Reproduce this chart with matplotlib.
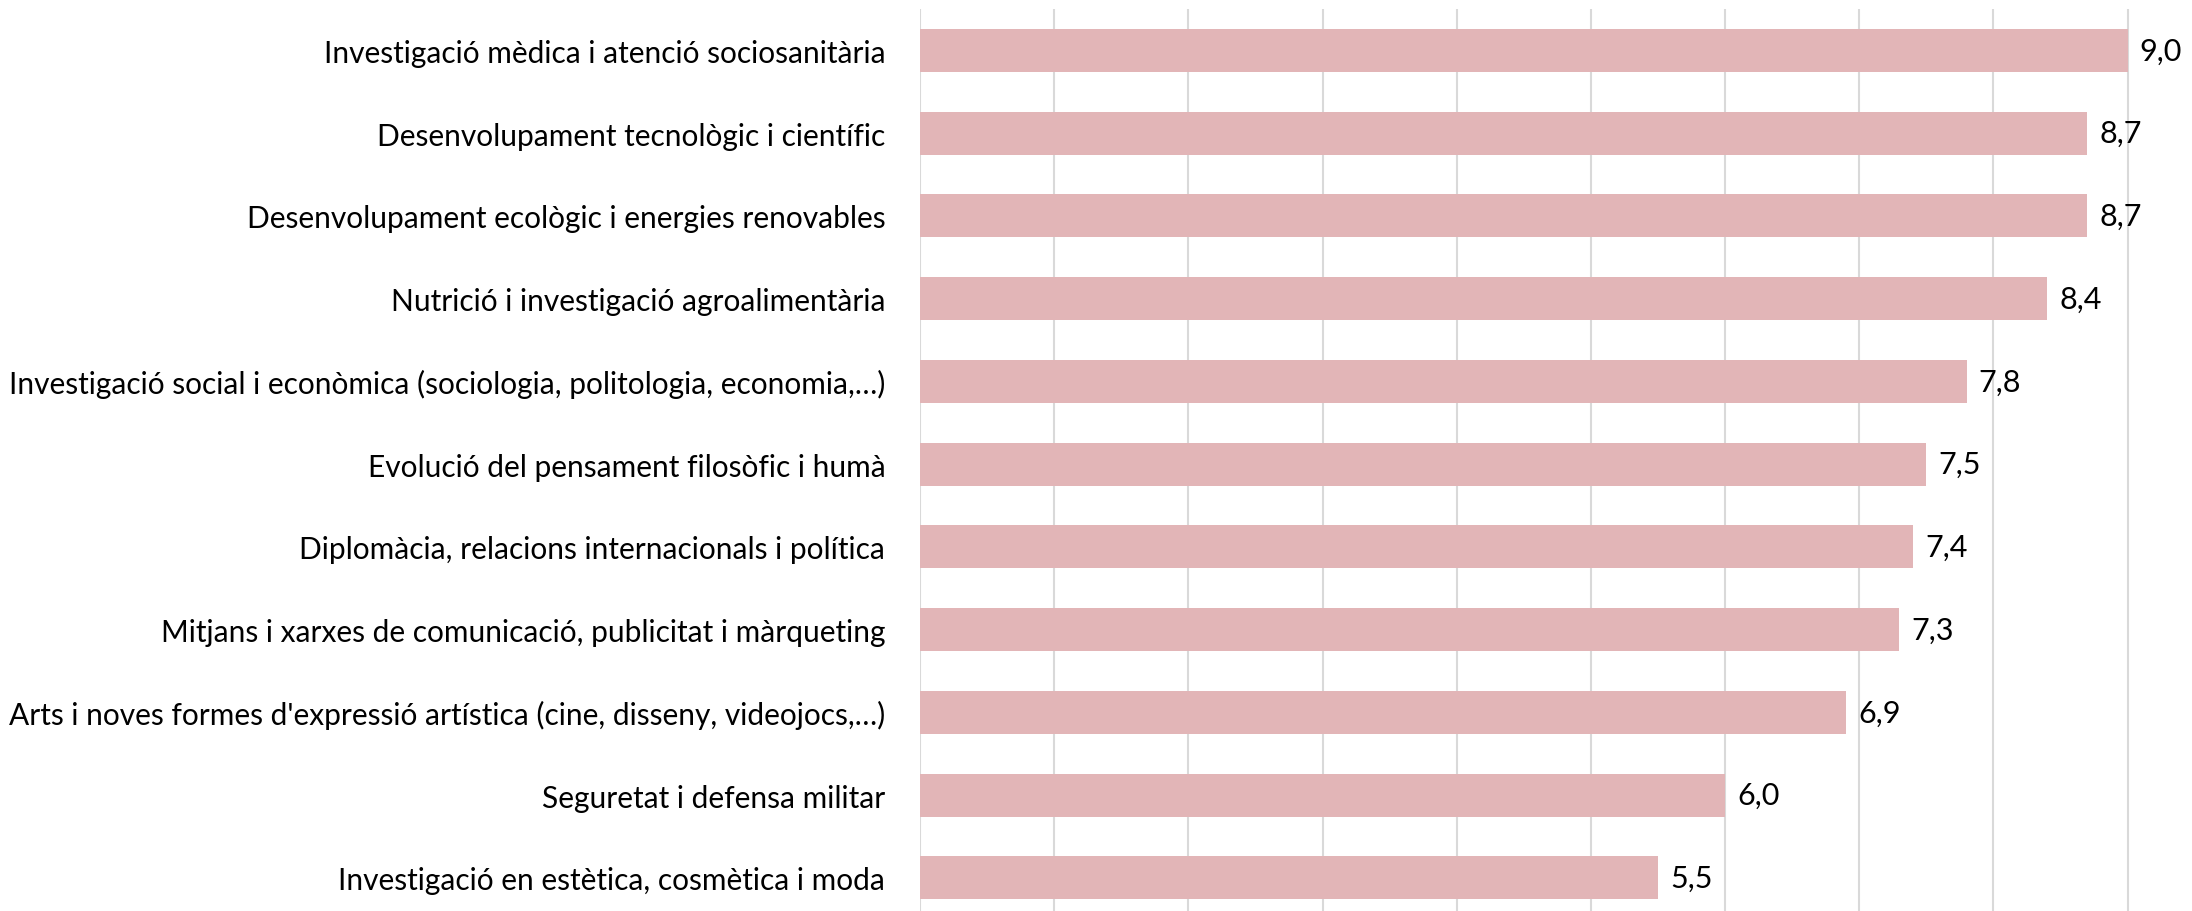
import matplotlib.pyplot as plt
import numpy as np

plt.rcParams['font.family'] = ['Lato', 'DejaVu Sans']

categories = [
    "Investigació mèdica i atenció sociosanitària",
    "Desenvolupament tecnològic i científic",
    "Desenvolupament ecològic i energies renovables",
    "Nutrició i investigació agroalimentària",
    "Investigació social i econòmica (sociologia, politologia, economia,…)",
    "Evolució del pensament filosòfic i humà",
    "Diplomàcia, relacions internacionals i política",
    "Mitjans i xarxes de comunicació, publicitat i màrqueting",
    "Arts i noves formes d'expressió artística (cine, disseny, videojocs,…)",
    "Seguretat i defensa militar",
    "Investigació en estètica, cosmètica i moda",
]
values = [9.0, 8.7, 8.7, 8.4, 7.8, 7.5, 7.4, 7.3, 6.9, 6.0, 5.5]

fig = plt.figure(figsize=(21.92, 9.12), dpi=100)
ax = fig.add_axes([920 / 2192, 0, 1 - 920 / 2192, 1 - 10 / 912])

y = np.arange(len(categories))
ax.barh(y, values, height=0.52, color="#e2b5b7", zorder=2)
for yi, v in zip(y, values):
    ax.text(v + 0.09, yi, f"{v:.1f}".replace(".", ","), va="center", ha="left",
            fontsize=22, color="#000000")

ax.set_yticks(y)
ax.set_yticklabels(categories, fontsize=21.5, color="#000000")
ax.tick_params(axis="y", length=0, pad=25)
ax.tick_params(axis="x", length=0, labelbottom=False)
ax.set_xticks(np.arange(0, 10))
ax.xaxis.grid(True, color="#d9d9d9", linewidth=1.5, zorder=0)
ax.set_xlim(0, 9.48)
ax.set_ylim(10.4, -0.5)
for s in ax.spines.values():
    s.set_visible(False)

fig.savefig("out.png", dpi=100)
